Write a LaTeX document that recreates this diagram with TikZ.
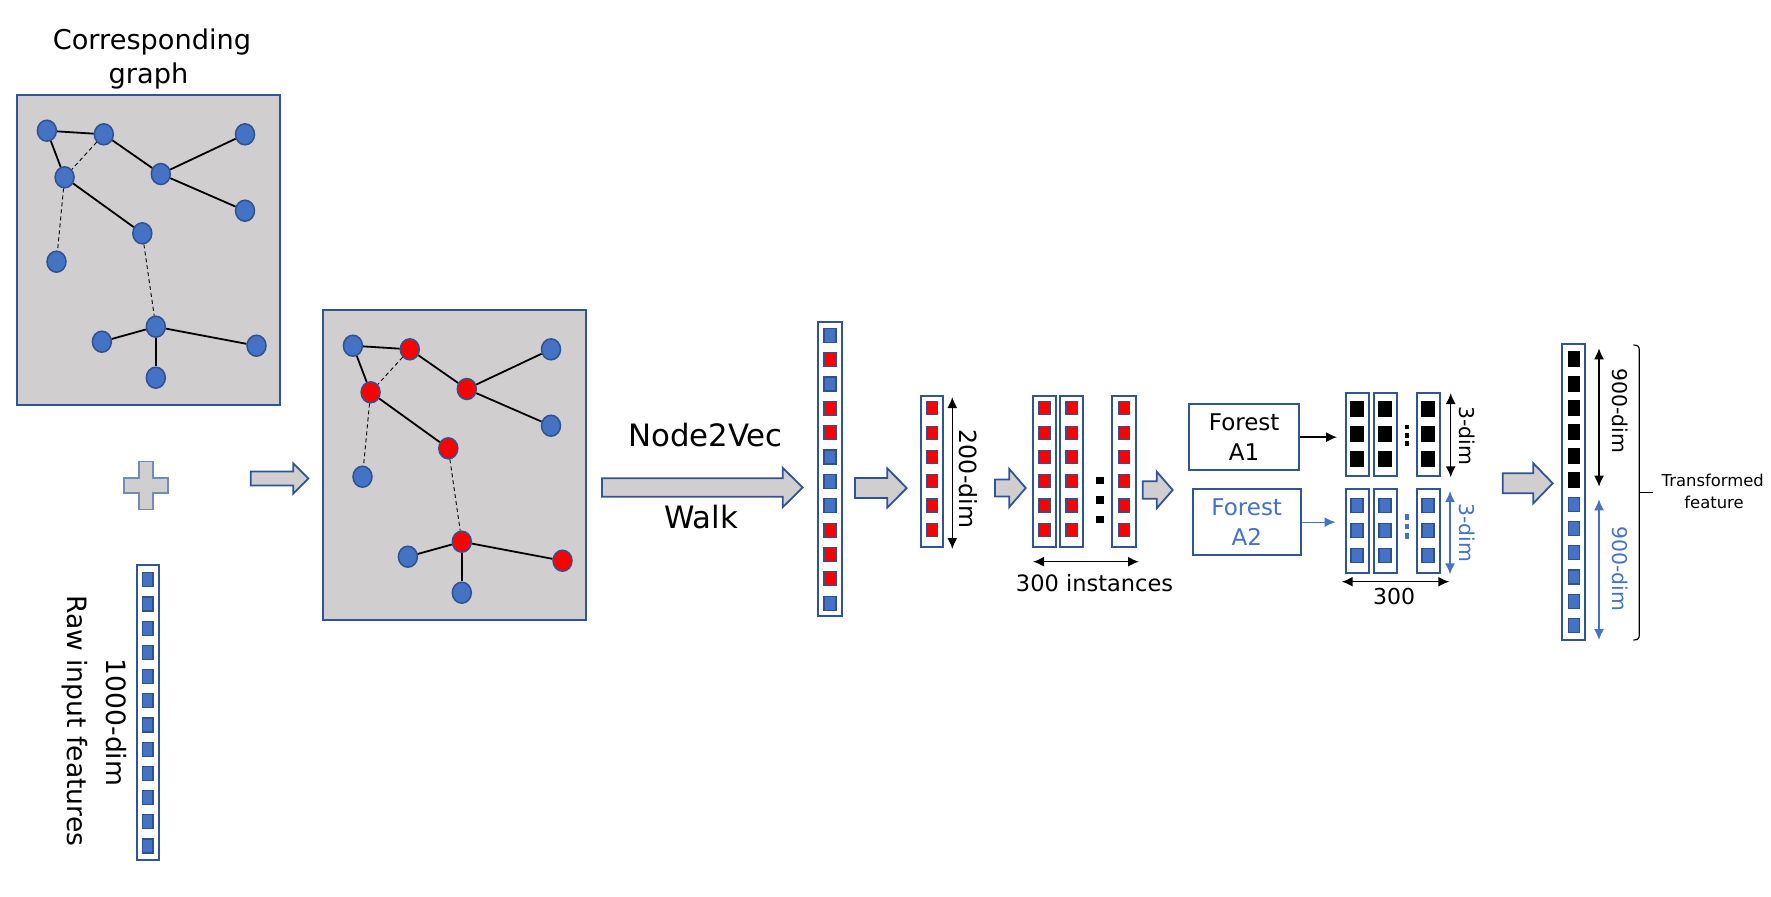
\documentclass[tikz,border=0pt]{standalone}
\usepackage{fontspec}
\setmainfont{DejaVu Sans}
\usetikzlibrary{shapes.geometric,arrows.meta}

\definecolor{nodeblue}{RGB}{68,114,196}
\definecolor{nodeline}{RGB}{47,82,143}
\definecolor{boxline}{RGB}{47,85,151}
\definecolor{panelgray}{RGB}{208,206,206}
\definecolor{crossline}{RGB}{110,140,190}

\tikzset{
  gnode/.style={ellipse, draw=nodeline, fill=nodeblue, line width=0.75pt, minimum width=9.5pt, minimum height=10.5pt, inner sep=0pt},
  rnode/.style={gnode, fill=red},
  link/.style={line width=0.9pt},
  weaklink/.style={line width=0.45pt, dash pattern=on 2pt off 1.5pt},
  panel/.style={draw=boxline, fill=panelgray, line width=1pt},
  vecbox/.style={draw=boxline, line width=1pt, inner sep=0pt, minimum width=11.5pt},
  cellb/.style={draw=nodeline, fill=nodeblue, line width=0.6pt, inner sep=0pt, minimum width=5.5pt, minimum height=7pt},
  cellr/.style={cellb, fill=red},
  cellk/.style={draw=black, fill=black, inner sep=0pt, minimum width=6pt, minimum height=7.5pt},
  blockarrow/.style={draw=boxline, fill=panelgray, line width=0.9pt, line join=miter},
  dimarrow/.style={line width=0.75pt, {Latex[length=5.5pt,width=5pt]}-{Latex[length=5.5pt,width=5pt]}},
  forestbox/.style={draw=boxline, line width=1.1pt, minimum height=32.85pt, align=center, inner sep=0pt, font=\fontsize{11.5}{15.3}\selectfont},
}

% block arrow: start x, tip x, head x, mid y, shaft half, head half
\newcommand{\blockarr}[6]{%
  \draw[blockarrow] (#1,#4-#5) -- (#3,#4-#5) -- (#3,#4-#6) -- (#2,#4) -- (#3,#4+#6) -- (#3,#4+#5) -- (#1,#4+#5) -- cycle ;}

\begin{document}
\begin{tikzpicture}[x=0.5pt,y=0.5pt,yscale=-1]
\useasboundingbox (0,0) rectangle (1771,896);

%Shape: Rectangle [id:graph panel]
\draw[panel] (16.5,95) rectangle (279.6,405) ;
%Shape: Rectangle [id:walk panel]
\draw[panel] (322.7,310) rectangle (585.8,620) ;

%Graph nodes, corresponding graph
\node[gnode] (a1) at (46.9,130.7) {};
\node[gnode] (a2) at (103.8,134.3) {};
\node[gnode] (a3) at (64.6,177.3) {};
\node[gnode] (a4) at (160.8,174) {};
\node[gnode] (a5) at (245,134.3) {};
\node[gnode] (a6) at (245,210.7) {};
\node[gnode] (a7) at (142.3,233.3) {};
\node[gnode] (a8) at (56.5,261.7) {};
\node[gnode] (a9) at (155.8,326.7) {};
\node[gnode] (a10) at (101.9,341.7) {};
\node[gnode] (a11) at (256.5,345.7) {};
\node[gnode] (a12) at (155.8,377.7) {};
%Edges
\draw[link] (a1) -- (a2) ;
\draw[link] (a1) -- (a3) ;
\draw[link] (a2) -- (a4) ;
\draw[link] (a4) -- (a5) ;
\draw[link] (a4) -- (a6) ;
\draw[link] (a3) -- (a7) ;
\draw[link] (a9) -- (a10) ;
\draw[link] (a9) -- (a11) ;
\draw[link] (a9) -- (a12) ;
\draw[weaklink] (a2) -- (a3) ;
\draw[weaklink] (a3) -- (a8) ;
\draw[weaklink] (a7) -- (a9) ;

%Graph nodes, walk (red = visited)
\node[gnode] (b1) at (352.9,345.7) {};
\node[rnode] (b2) at (409.8,349.3) {};
\node[rnode] (b3) at (370.6,392.3) {};
\node[rnode] (b4) at (466.8,389) {};
\node[gnode] (b5) at (551,349.3) {};
\node[gnode] (b6) at (551,425.7) {};
\node[rnode] (b7) at (448.3,448.3) {};
\node[gnode] (b8) at (362.5,476.7) {};
\node[rnode] (b9) at (461.8,541.7) {};
\node[gnode] (b10) at (407.9,556.7) {};
\node[rnode] (b11) at (562.5,560.7) {};
\node[gnode] (b12) at (461.8,592.7) {};
%Edges
\draw[link] (b1) -- (b2) ;
\draw[link] (b1) -- (b3) ;
\draw[link] (b2) -- (b4) ;
\draw[link] (b4) -- (b5) ;
\draw[link] (b4) -- (b6) ;
\draw[link] (b3) -- (b7) ;
\draw[link] (b9) -- (b10) ;
\draw[link] (b9) -- (b11) ;
\draw[link] (b9) -- (b12) ;
\draw[weaklink] (b2) -- (b3) ;
\draw[weaklink] (b3) -- (b8) ;
\draw[weaklink] (b7) -- (b9) ;

%Shape: Cross
\draw[blockarrow, draw=crossline, line width=0.9pt] (139,461.5) -- (153,461.5) -- (153,478) -- (168,478) -- (168,493) -- (153,493) -- (153,509.5) -- (139,509.5) -- (139,493) -- (124,493) -- (124,478) -- (139,478) -- cycle ;

%Block arrows
\blockarr{250.7}{308.3}{293.3}{478.5}{7}{15}
\blockarr{602}{802.7}{782.7}{487.5}{9.2}{19.7}
\blockarr{855}{906.7}{887.3}{488}{10}{19.5}
\blockarr{995}{1025.7}{1009.3}{488}{8.5}{19}
\blockarr{1142.7}{1172.7}{1156.7}{490}{8.7}{18.3}
\blockarr{1502.7}{1552.7}{1533.3}{483.3}{10}{20}

%Raw input vector
\node[vecbox, minimum width=11.15pt, minimum height=147.5pt] (raw) at (147.65,712.5) {};
\foreach \i in {0,...,11}
  \node[cellb, minimum width=5.35pt] (raw-\i) at (147.7,579.7+\i*24.2) {};

%Walk vector
\node[vecbox, minimum width=12pt, minimum height=147pt] (walk) at (830,469) {};
\foreach \s [count=\i from 0] in {cellb,cellr,cellb,cellr,cellr,cellb,cellb,cellb,cellr,cellr,cellr,cellb}
  \node[\s, minimum width=6pt] (walk-\i) at (830,335.3+\i*24.35) {};

%Embedding vector
\node[vecbox, minimum width=11.3pt, minimum height=75.65pt] (emb) at (932,471.65) {};
\foreach \i in {0,...,5}
  \node[cellr, minimum width=5.35pt, minimum height=6.5pt] (emb-\i) at (932,408.3+\i*24.3) {};

%Instances
\foreach \n/\x in {1/1044.35,2/1071.65,3/1124} {
  \node[vecbox, minimum width=11.65pt, minimum height=75.65pt] (ins\n) at (\x,471.65) {};
  \foreach \i in {0,...,5}
    \node[cellr, minimum width=5.65pt, minimum height=6.5pt] (ins\n-\i) at (\x,408.3+\i*24.3) {};
}
\foreach \y in {480.3,500,519.7}
  \fill (1096,\y-3.6) rectangle (1104,\y+3.6) ;

%Forest boxes
\draw (1244.15,437.15) node [forestbox, minimum width=54.85pt] (fa) {Forest\\A1} ;
\draw (1246.7,522.15) node [forestbox, minimum width=54pt, text=nodeblue] (fb) {Forest\\A2} ;

%Forest outputs
\foreach \n/\x in {1/1357,2/1385,3/1428} {
  \node[vecbox, minimum height=41.35pt] (ka\n) at (\x,434.65) {};
  \foreach \i in {0,1,2}
    \node[cellk, minimum width=6.15pt] (ka\n-\i) at (\x,409.2+\i*25) {};
  \node[vecbox, minimum height=41.7pt] (kb\n) at (\x,531) {};
  \foreach \i in {0,1,2}
    \node[cellb, minimum width=6pt] (kb\n-\i) at (\x,505.8+\i*25) {};
}
\foreach \y in {427,435.3,443.6}
  \fill (1405.2,\y-2.3) rectangle (1408.6,\y+2.3) ;
\foreach \y in {517,526.5,536}
  \fill[nodeblue] (1405.2,\y-2.8) rectangle (1408.6,\y+2.8) ;

\draw[line width=0.75pt, -{Latex[length=5.5pt,width=5pt]}, shorten >=3.7pt] (fa.east) -- (fa.east -| ka1.west) ;
\draw[nodeblue, line width=0.65pt, -{Latex[length=5.5pt,width=5pt]}, shorten >=4.5pt] (fb.east) -- (fb.east -| kb1.west) ;

%Transformed vector
\node[vecbox, minimum height=147.85pt] (out) at (1573.8,492.15) {};
\foreach \i in {0,...,5}
  \node[cellk, minimum width=5.85pt] (out-\i) at (1573.8,359.2+\i*24.2) {};
\foreach \i in {6,...,11}
  \node[cellb, minimum width=5.6pt] (out-\i) at (1573.8,359.2+\i*24.2) {};

%Dimension arrows
\draw[dimarrow] (952.3,397) -- (952.3,549) ;
\draw[dimarrow] (1033,561.7) -- (1139,561.7) ;
\draw[dimarrow] (1450.7,393) -- (1450.7,477.3) ;
\draw[dimarrow, nodeblue] (1450,491) -- (1450,574.3) ;
\draw[dimarrow] (1341.7,581.7) -- (1449.3,581.7) ;
\draw[dimarrow] (1599,348.3) -- (1599,486.7) ;
\draw[dimarrow, nodeblue] (1599,499.3) -- (1599,640) ;

%Bracket
\draw[line width=0.6pt] (1633.3,345) .. controls (1637,345) and (1639.3,346) .. (1639.3,350) -- (1639.3,635) .. controls (1639.3,639) and (1637,640) .. (1633.3,640) ;
\draw[line width=0.6pt] (1639.3,492.7) -- (1653.3,492.7) ;

% Text Node
\draw (152,49.3) node [anchor=base][inner sep=0pt][font=\fontsize{13.6}{17}\selectfont] (tcorr) {Corresponding} ;
% Text Node
\draw (148.5,83.3) node [anchor=base][inner sep=0pt][font=\fontsize{13.6}{17}\selectfont] (tgraph) {graph} ;
% Text Node
\draw (116,722.5) node [rotate=-90][inner sep=0pt][font=\fontsize{13.3}{16}\selectfont] (tdim) {1000-dim} ;
% Text Node
\draw (75,720.7) node [rotate=-90][inner sep=0pt][font=\fontsize{13.3}{16}\selectfont] (traw) {Raw input features} ;
% Text Node
\draw (705.5,446.7) node [anchor=base][inner sep=0pt][font=\fontsize{15.4}{18}\selectfont] (tn2v) {Node2Vec} ;
% Text Node
\draw (701,528.3) node [anchor=base][inner sep=0pt][font=\fontsize{15.4}{18}\selectfont] (twalk) {Walk} ;
% Text Node
\draw (968,479) node [rotate=-90][inner sep=0pt][font=\fontsize{11.8}{14}\selectfont] (tdemb) {200-dim} ;
% Text Node
\draw (1094.5,591.7) node [anchor=base][inner sep=0pt][font=\fontsize{11.25}{14}\selectfont] (tins) {300 instances} ;
% Text Node
\draw (1467,435.5) node [rotate=-90][inner sep=0pt][font=\fontsize{10.2}{12}\selectfont] (tka) {3-dim} ;
% Text Node
\draw (1467,533) node [rotate=-90][inner sep=0pt][font=\fontsize{10.2}{12}\selectfont, text=nodeblue] (tkb) {3-dim} ;
% Text Node
\draw (1394,604) node [anchor=base][inner sep=0pt][font=\fontsize{11}{13}\selectfont] (tthree) {300} ;
% Text Node
\draw (1620,411) node [rotate=-90][inner sep=0pt][font=\fontsize{10.2}{12}\selectfont] (touta) {900-dim} ;
% Text Node
\draw (1620,569) node [rotate=-90][inner sep=0pt][font=\fontsize{10.2}{12}\selectfont, text=nodeblue] (toutb) {900-dim} ;
% Text Node
\draw (1712.7,486.7) node [anchor=base][inner sep=0pt][font=\fontsize{8.2}{10}\selectfont] (ttrans) {Transformed} ;
% Text Node
\draw (1714,508.3) node [anchor=base][inner sep=0pt][font=\fontsize{8.2}{10}\selectfont] (tfeat) {feature} ;

\end{tikzpicture}
\end{document}
